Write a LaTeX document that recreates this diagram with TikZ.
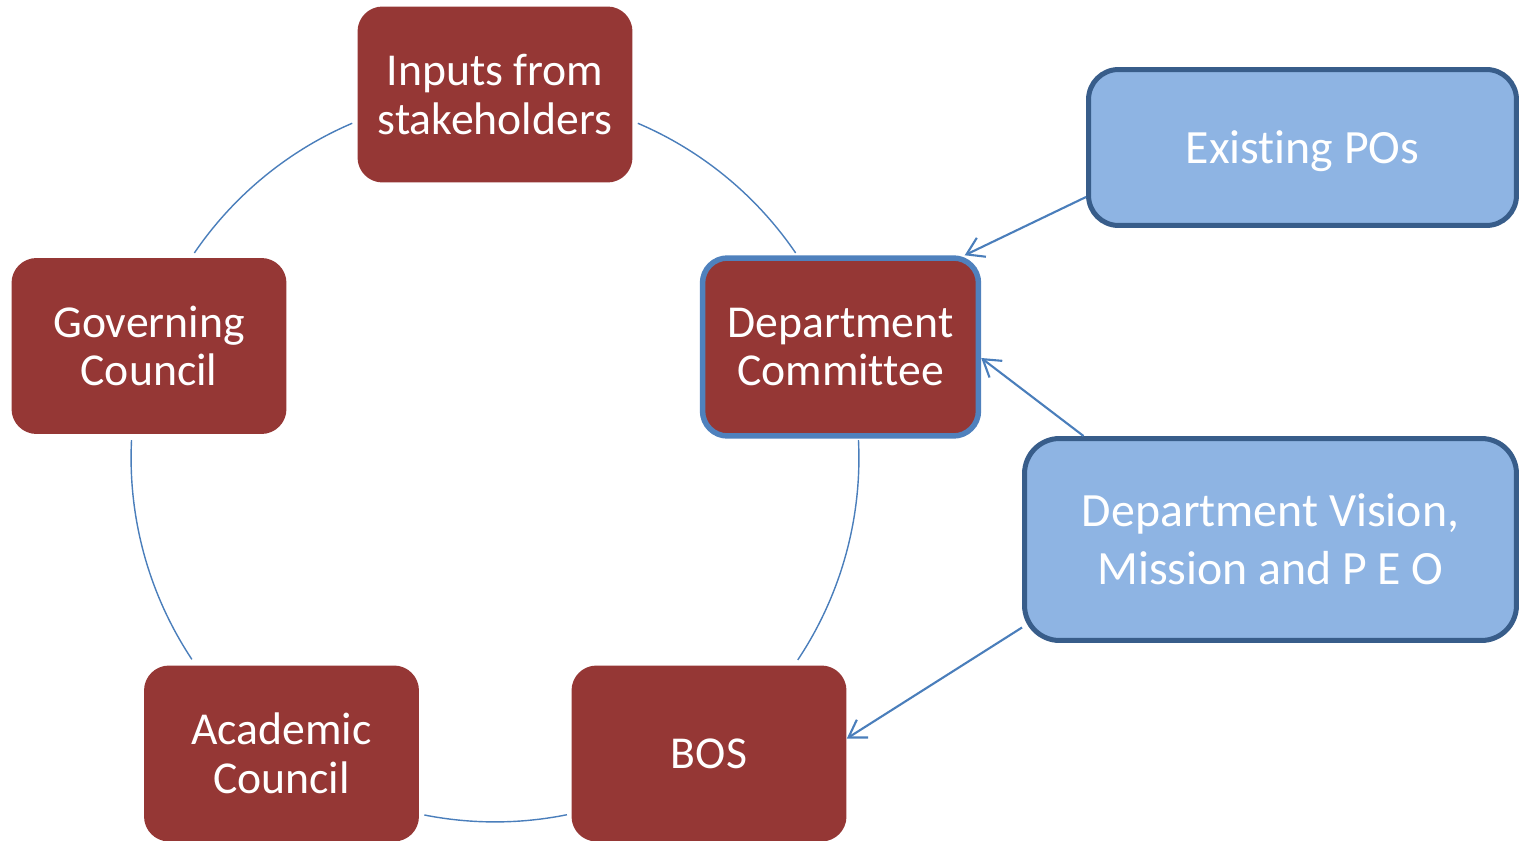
\documentclass[tikz,border=0pt]{standalone}
\usepackage{fontspec}
\setmainfont{Carlito}[Ligatures=NoCommon]
\usetikzlibrary{arrows.meta}
\definecolor{redfill}{HTML}{953735}
\definecolor{bluefill}{HTML}{8EB4E3}
\definecolor{blueborder}{HTML}{385D8A}
\definecolor{dcborder}{HTML}{4F81BD}
\definecolor{linecol}{HTML}{4A7EBB}
\tikzset{
  redbox/.style={rectangle, rounded corners=0.5cm, fill=redfill, text=white,
    minimum width=5.5cm, minimum height=3.52cm, align=center,
    font=\fontsize{26}{27.8}\selectfont, inner sep=0pt},
  bluebox/.style={rectangle, rounded corners=0.6cm, fill=bluefill, draw=blueborder,
    line width=0.1cm, text=white, align=center,
    font=\fontsize{27.2}{33}\selectfont, inner sep=0pt},
  ring/.style={draw=linecol, line width=0.8pt},
  feed/.style={draw=linecol, line width=1.2pt, -{Straight Barb[length=0.33cm,width=0.42cm]}}
}
\begin{document}
\begin{tikzpicture}[x=0.02cm, y=-0.02cm]
\useasboundingbox (0,0) rectangle (1525,841);
\coordinate (c) at (495,458);
% ring arcs
\draw[ring] ([shift={(66.9:7.28cm)}]c) arc[start angle=66.9, end angle=34.3, radius=7.28cm];
\draw[ring] ([shift={(2.8:7.28cm)}]c) arc[start angle=2.8, end angle=-33.7, radius=7.28cm];
\draw[ring] ([shift={(-78.6:7.28cm)}]c) arc[start angle=-78.6, end angle=-101.2, radius=7.28cm];
\draw[ring] ([shift={(-146.4:7.28cm)}]c) arc[start angle=-146.4, end angle=-182.8, radius=7.28cm];
\draw[ring] ([shift={(145.7:7.28cm)}]c) arc[start angle=145.7, end angle=113.1, radius=7.28cm];
% nodes
\node[redbox] (inp) at (495,94.5) {Inputs from\\stakeholders};
\node[redbox] (gov) at (149,346) {Governing\\Council};
\node[redbox, draw=dcborder, line width=0.11cm, minimum width=5.52cm, minimum height=3.56cm] (dc) at (840.5,347) {Department\\Committee};
\node[redbox] (acad) at (281.5,753.5) {Academic\\Council};
\node[redbox] (bos) at (709,753.5) {BOS};
\node[bluebox, minimum width=8.56cm, minimum height=3.12cm, text depth=0pt] (po) at (1302.5,147.5) {Existing POs};
\node[bluebox, minimum width=9.84cm, minimum height=4.04cm, rounded corners=0.7cm] (dv) at (1270.5,539.5) {Department Vision,\\Mission and P E O};
% feeding arrows
\draw[feed] ([yshift=-0.99cm]po.west) -- ([xshift=-0.33cm]dc.north east);
\draw[feed] ([xshift=1.23cm]dv.north west) -- ([yshift=-0.22cm]dc.east);
\draw[feed] ([yshift=-1.76cm]dv.west) -- ([yshift=0.3cm]bos.east);
\end{tikzpicture}
\end{document}
